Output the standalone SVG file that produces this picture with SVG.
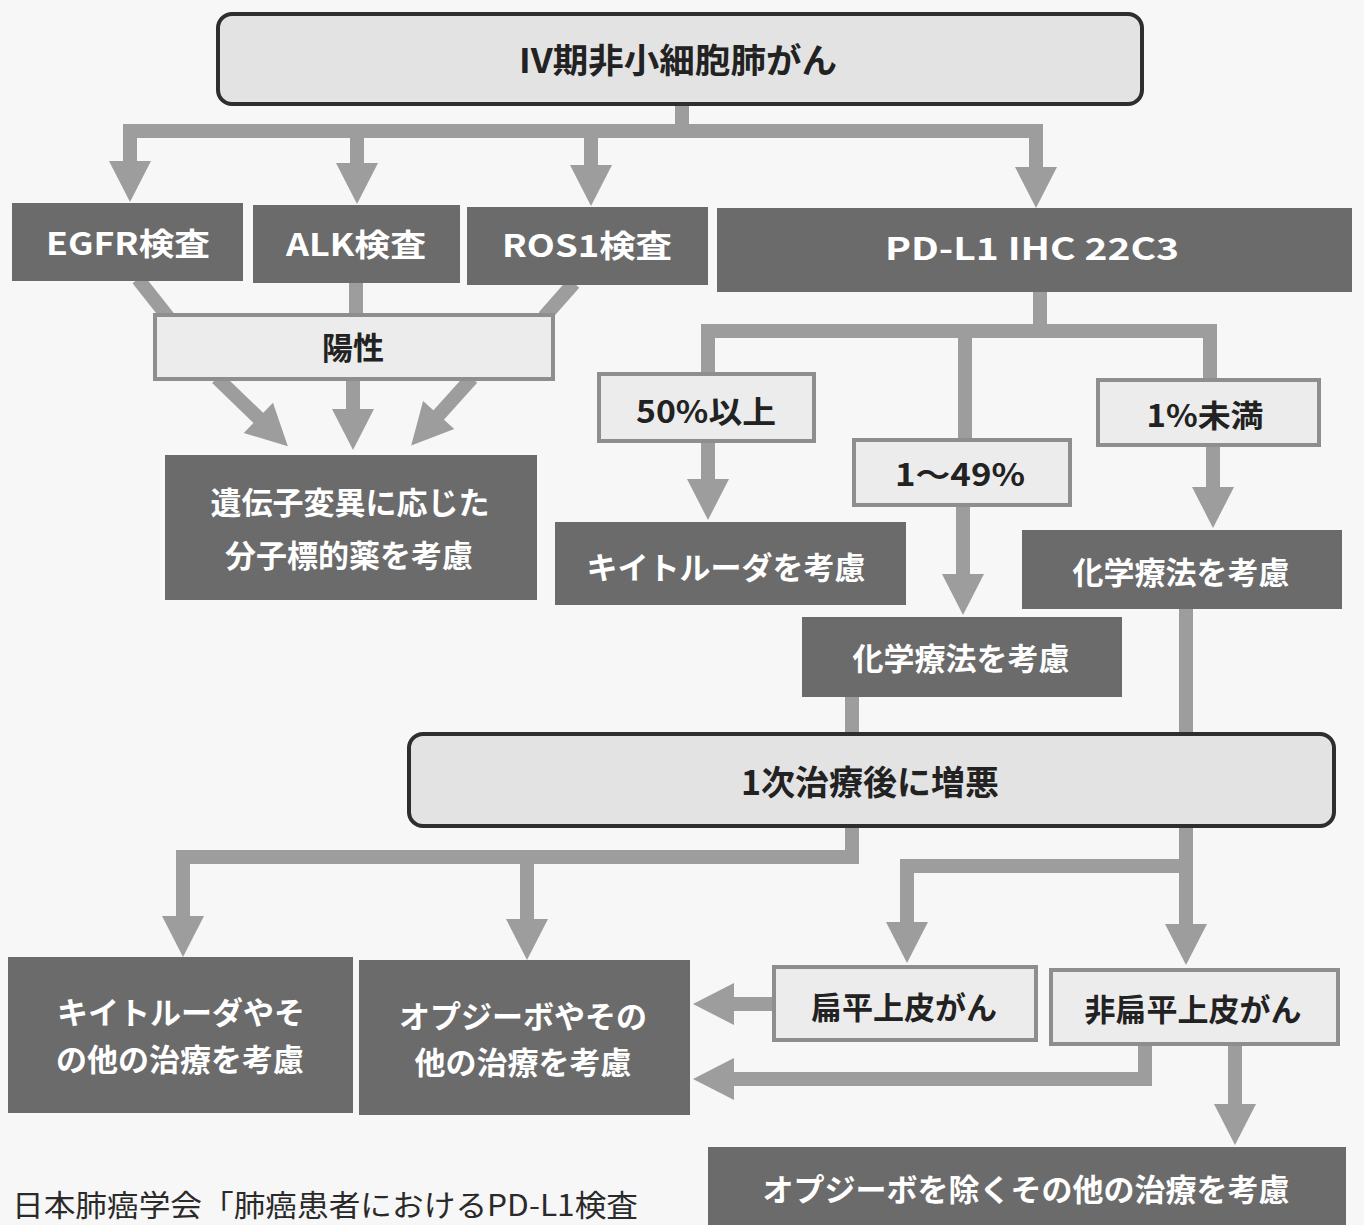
<svg xmlns="http://www.w3.org/2000/svg" width="1364" height="1225" viewBox="0 0 1364 1225">
<style>
.bg{fill:#f7f7f7}
.cn{fill:none;stroke:#9d9d9d;stroke-width:14;stroke-linejoin:miter;stroke-linecap:butt}
.ah{marker-end:url(#ah)}
.dk{fill:#6b6b6b}
.lt{fill:#ececec;stroke:#8e8e8e;stroke-width:4}
.rd{fill:#e3e3e3;stroke:#2e2e2e;stroke-width:4}
text{font-family:"Noto Sans CJK JP","Noto Sans",sans-serif;font-weight:bold;text-anchor:middle;dominant-baseline:central}
.w{fill:#ffffff;font-size:31px}
.d{fill:#222222;font-size:31px}
.big{font-size:34px}
.ft{font-weight:normal;text-anchor:start;dominant-baseline:auto;fill:#2a2a2a;font-size:30px}
</style>
<defs>
<marker id="ah" markerUnits="userSpaceOnUse" viewBox="-1 -22 42 44" markerWidth="42" markerHeight="44" refX="0" refY="0" orient="auto" overflow="visible">
<path d="M-1,-21 L40,0 L-1,21 Z" fill="#9d9d9d"/>
</marker>
</defs>
<rect class="bg" x="0" y="0" width="1364" height="1225"/>
<g id="connectors">
<path class="cn" d="M682,100 V131"/>
<path class="cn" d="M130,162 V131 H1036 V168"/>
<path class="cn ah" d="M130,131 V162"/>
<path class="cn ah" d="M357,131 V164"/>
<path class="cn ah" d="M591,131 V166"/>
<path class="cn ah" d="M1036,131 V168"/>
<path class="cn" d="M138,279 L168,317"/>
<path class="cn" d="M356,281 V316"/>
<path class="cn" d="M574,283 L544,317"/>
<path class="cn ah" d="M217,378 L259.1,418.6"/>
<path class="cn ah" d="M353,378 V410"/>
<path class="cn ah" d="M472,378 L438,415.7"/>
<path class="cn" d="M1040,290 V331"/>
<path class="cn" d="M708,375 V331 H1210 V380"/>
<path class="cn" d="M965,331 V440"/>
<path class="cn ah" d="M708,441 V480"/>
<path class="cn ah" d="M963,505 V575"/>
<path class="cn ah" d="M1213,446 V488"/>
<path class="cn" d="M852,695 V857 H183 V917"/>
<path class="cn ah" d="M183,857 V917"/>
<path class="cn ah" d="M527,857 V920"/>
<path class="cn ah" d="M1186,605 V925"/>
<path class="cn" d="M1186,866 H907 V923"/>
<path class="cn ah" d="M907,866 V923"/>
<path class="cn ah" d="M774,1004 H733"/>
<path class="cn" d="M1145,1045 V1079 H733"/>
<path class="cn ah" d="M1145,1079 H733"/>
<path class="cn ah" d="M1235,1045 V1105"/>
</g>
<g id="n-top"><rect class="rd" x="218" y="14" width="924" height="90" rx="14"/><text class="d big" x="678" y="58" textLength="318" lengthAdjust="spacingAndGlyphs">IV期非小細胞肺がん</text></g>
<g id="n-egfr"><rect class="dk" x="12" y="203" width="231" height="78"/><text class="w" x="128" y="241" textLength="164" lengthAdjust="spacingAndGlyphs">EGFR検査</text></g>
<g id="n-alk"><rect class="dk" x="253" y="205" width="207" height="78"/><text class="w" x="356" y="242" textLength="140" lengthAdjust="spacingAndGlyphs">ALK検査</text></g>
<g id="n-ros1"><rect class="dk" x="467" y="207" width="241" height="78"/><text class="w" x="587" y="243" textLength="170" lengthAdjust="spacingAndGlyphs">ROS1検査</text></g>
<g id="n-pdl1"><rect class="dk" x="717" y="208" width="635" height="84"/><text class="w" x="1032" y="246" textLength="294" lengthAdjust="spacingAndGlyphs">PD-L1 IHC 22C3</text></g>
<g id="n-pos"><rect class="lt" x="155" y="315" width="398" height="64"/><text class="d" x="353" y="345">陽性</text></g>
<g id="n-gene"><rect class="dk" x="165" y="455" width="372" height="145"/><text class="w" x="350" y="500">遺伝子変異に応じた</text><text class="w" x="349" y="553">分子標的薬を考慮</text></g>
<g id="n-50"><rect class="lt" x="599" y="374" width="215" height="67"/><text class="d" x="706" y="409" textLength="140" lengthAdjust="spacingAndGlyphs">50%以上</text></g>
<g id="n-1-49"><rect class="lt" x="854" y="440" width="216" height="65"/><text class="d" x="960" y="472" textLength="130" lengthAdjust="spacingAndGlyphs">1～49%</text></g>
<g id="n-lt1"><rect class="lt" x="1098" y="380" width="221" height="65"/><text class="d" x="1205" y="413" textLength="117" lengthAdjust="spacingAndGlyphs">1%未満</text></g>
<g id="n-keytruda"><rect class="dk" x="555" y="522" width="351" height="83"/><text class="w" x="726" y="565">キイトルーダを考慮</text></g>
<g id="n-chemo-mid"><rect class="dk" x="802" y="617" width="320" height="80"/><text class="w" x="961" y="656">化学療法を考慮</text></g>
<g id="n-chemo-right"><rect class="dk" x="1022" y="530" width="320" height="79"/><text class="w" x="1181" y="570">化学療法を考慮</text></g>
<g id="n-progress"><rect class="rd" x="409" y="734" width="925" height="92" rx="14"/><text class="d big" x="870" y="780">1次治療後に増悪</text></g>
<g id="n-keytruda-other"><rect class="dk" x="8" y="957" width="345" height="156"/><text class="w" x="181" y="1010">キイトルーダやそ</text><text class="w" x="180" y="1057">の他の治療を考慮</text></g>
<g id="n-opdivo-other"><rect class="dk" x="359" y="960" width="331" height="155"/><text class="w" x="523" y="1014">オプジーボやその</text><text class="w" x="523" y="1060">他の治療を考慮</text></g>
<g id="n-sq"><rect class="lt" x="774" y="967" width="262" height="73"/><text class="d" x="904" y="1005">扁平上皮がん</text></g>
<g id="n-nonsq"><rect class="lt" x="1051" y="970" width="287" height="74"/><text class="d" x="1193" y="1007">非扁平上皮がん</text></g>
<g id="n-other"><rect class="dk" x="708" y="1147" width="638" height="90"/><text class="w" x="1026" y="1187">オプジーボを除くその他の治療を考慮</text></g>
<text class="ft" x="12" y="1216" textLength="626" lengthAdjust="spacingAndGlyphs">日本肺癌学会「肺癌患者におけるPD-L1検査</text>
</svg>
